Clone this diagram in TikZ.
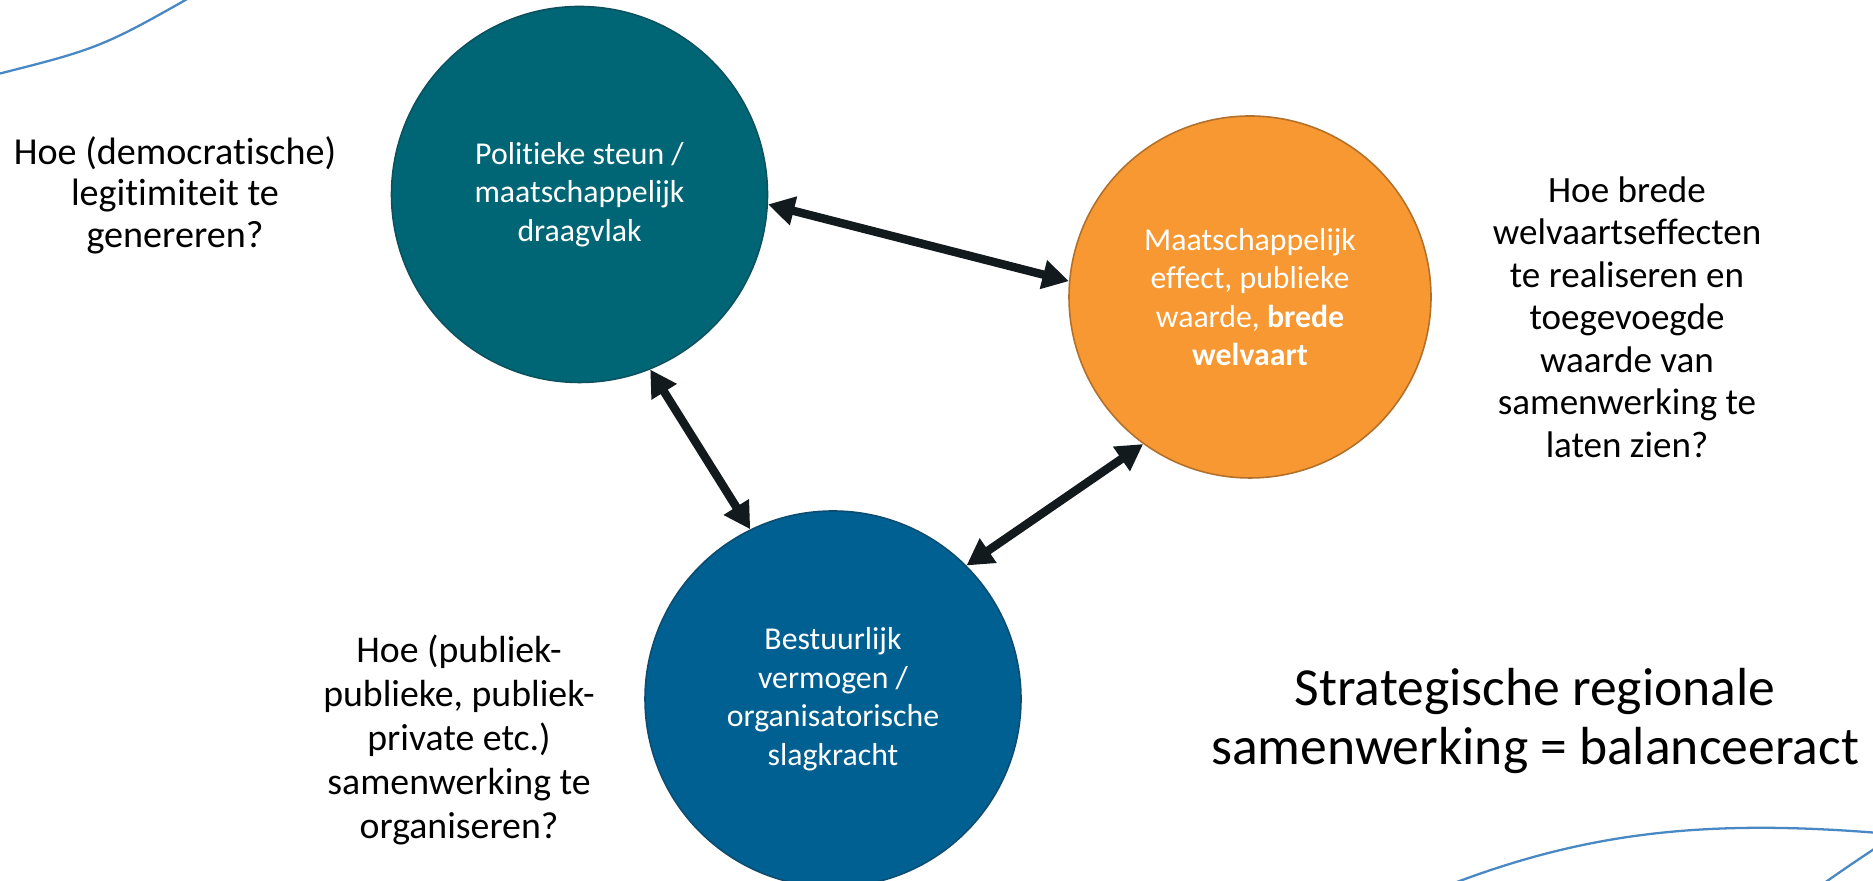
\documentclass[tikz,border=0pt]{standalone}
\usepackage{fontspec}
\setmainfont{Carlito}[Ligatures={NoCommon,NoContextual,NoRare}]
\usetikzlibrary{arrows.meta}
\definecolor{polfill}{RGB}{0,102,117}
\definecolor{polline}{RGB}{12,82,94}
\definecolor{maatfill}{RGB}{247,152,50}
\definecolor{maatline}{RGB}{178,112,42}
\definecolor{bestfill}{RGB}{0,96,146}
\definecolor{bestline}{RGB}{12,76,112}
\definecolor{linkc}{RGB}{18,26,30}
\definecolor{swooshc}{RGB}{72,136,196}
\tikzset{bubble/.style={draw,circle,align=center,text=white,inner sep=0pt,line width=0.9pt,minimum size=7.52cm,font=\fontsize{18.1}{21.9}\selectfont}}
\tikzset{qtext/.style={align=center,text=black,font=\fontsize{21}{24}\selectfont}}
\tikzset{link/.style={line width=4.8pt,linkc,{Triangle[length=15pt,width=16pt]}-{Triangle[length=15pt,width=16pt]}}}
\tikzset{swoosh/.style={line width=1.3pt,swooshc}}

\begin{document}
\begin{tikzpicture}
\useasboundingbox (0,0) rectangle (37.46,17.62);
\draw[swoosh] (-0.2,16.1) .. controls (2.03,16.66) .. (4.2,17.9);
\draw[swoosh] (28.8,-0.15) .. controls (31.6,0.95) and (34.0,1.26) .. (37.7,0.95);
\draw[swoosh] (36.4,-0.1) .. controls (36.9,0.25) .. (37.6,0.72);

\node[bubble,fill=polfill,draw=polline] (pol) at (11.59,13.73) {Politieke steun /\\maatschappelijk\\draagvlak};
\node[bubble,fill=maatfill,draw=maatline,minimum size=7.24cm] (maat) at (25.0,11.68) {Maatschappelijk\\effect, publieke\\waarde, \textbf{brede}\\\textbf{welvaart}};
\node[bubble,fill=bestfill,draw=bestline] (best) at (16.66,3.64) {Bestuurlijk\\vermogen /\\organisatorische\\slagkracht};

\draw[link] (pol.-3) -- (maat.175);
\draw[link] (pol.-68.6) -- (best.116);
\draw[link] (maat.234) -- (best.45);

\node[qtext,font=\fontsize{21.7}{23.6}\selectfont] (qpol) at (3.5,13.72) {Hoe (democratische)\\legitimiteit te\\genereren?};
\node[qtext,font=\fontsize{21.1}{24.2}\selectfont] (qmaat) at (32.54,11.28) {Hoe brede\\welvaartseffecten\\te realiseren en\\toegevoegde\\waarde van\\samenwerking te\\laten zien?};
\node[qtext,font=\fontsize{21.5}{25}\selectfont] (qbest) at (9.18,2.82) {Hoe (publiek-\\publieke, publiek-\\private etc.)\\samenwerking te\\organiseren?};
\node[qtext,font=\fontsize{30.5}{34}\selectfont] (title) at (30.7,3.2) {Strategische regionale\\samenwerking = balanceeract};
\end{tikzpicture}
\end{document}
